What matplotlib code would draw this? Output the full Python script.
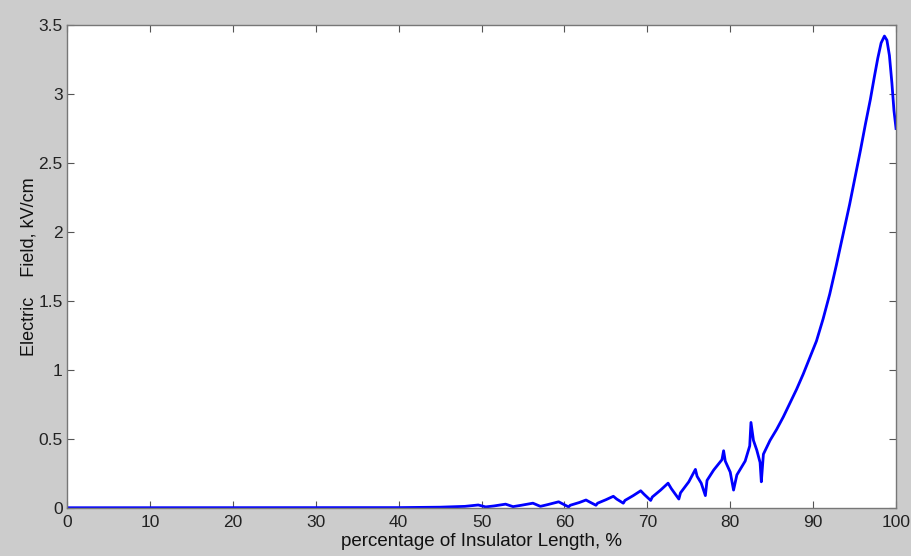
import matplotlib
matplotlib.use("Agg")
import matplotlib.pyplot as plt

x_pct = [0, 40, 45, 48, 49.6, 50.5, 51.5, 52.9, 53.8, 54.8, 56.2, 57.1, 58.0, 59.3,
         60.5, 60.7, 61.8, 62.6, 63.0, 63.8, 64.0, 65.0, 65.9, 66.3, 67.1, 67.3, 68.3,
         69.2, 69.6, 70.4, 70.6, 71.6, 72.5, 72.9, 73.8, 74.0, 75.0, 75.8, 76.0, 76.5,
         77.0, 77.2, 78.0, 79.0, 79.2, 79.4, 80.0, 80.4, 80.8, 81.8, 82.35, 82.5, 82.8,
         83.2, 83.6, 83.75, 84.0, 84.8, 85.6, 86.4, 87.2, 88.0, 88.8, 89.6, 90.4, 91.2,
         92.0, 92.8, 93.6, 94.4, 95.0, 95.7, 96.3, 96.9, 97.4, 97.8, 98.2, 98.6, 98.9,
         99.2, 99.5, 99.75, 100]
e_field = [0.002, 0.003, 0.006, 0.012, 0.022, 0.008, 0.015, 0.028, 0.010, 0.020, 0.035,
           0.012, 0.025, 0.045, 0.008, 0.020, 0.040, 0.058, 0.045, 0.020, 0.035, 0.060,
           0.085, 0.065, 0.035, 0.055, 0.090, 0.125, 0.100, 0.055, 0.080, 0.130, 0.180,
           0.140, 0.065, 0.110, 0.190, 0.280, 0.230, 0.180, 0.090, 0.200, 0.275, 0.350,
           0.415, 0.340, 0.260, 0.130, 0.240, 0.340, 0.450, 0.620, 0.490, 0.420, 0.330,
           0.190, 0.390, 0.490, 0.570, 0.660, 0.760, 0.860, 0.970, 1.090, 1.210, 1.370,
           1.550, 1.760, 1.980, 2.200, 2.380, 2.590, 2.780, 2.960, 3.130, 3.260, 3.370,
           3.420, 3.390, 3.280, 3.080, 2.880, 2.750]

x_ticks = [0, 10, 20, 30, 40, 50, 60, 70, 80, 90, 100]
y_ticks = [0, 0.5, 1, 1.5, 2, 2.5, 3, 3.5]
y_tick_labels = ["0", "0.5", "1", "1.5", "2", "2.5", "3", "3.5"]

plt.rcParams['font.family'] = ['Liberation Sans', 'DejaVu Sans']

fig = plt.figure(figsize=(9.12, 5.56), dpi=100, facecolor='#cccccc')
ax = fig.add_axes([0.0735, 0.0863, 0.909, 0.8687])
ax.set_facecolor('white')
ax.plot(x_pct, e_field, color='#0000ff', linewidth=2.0, solid_joinstyle='round')
ax.set_xlim(0, 100)
ax.set_ylim(0, 3.5)
ax.set_xticks(x_ticks)
ax.set_yticks(y_ticks)
ax.set_yticklabels(y_tick_labels)
ax.tick_params(direction='in', length=5, width=0.8, colors='#555555',
               labelcolor='#222222', labelsize=12.5, top=True, right=True, pad=3)
ax.tick_params(axis='x', pad=5)
for s in ax.spines.values():
    s.set_color('#777777')
    s.set_linewidth(1.0)
ax.set_xlabel('percentage of Insulator Length, %', fontsize=13.5, color='#111111', labelpad=2)
ax.set_ylabel('Electric    Field, kV/cm', fontsize=13, color='#111111', labelpad=1)
fig.savefig('out.png', dpi=100, facecolor=fig.get_facecolor())
